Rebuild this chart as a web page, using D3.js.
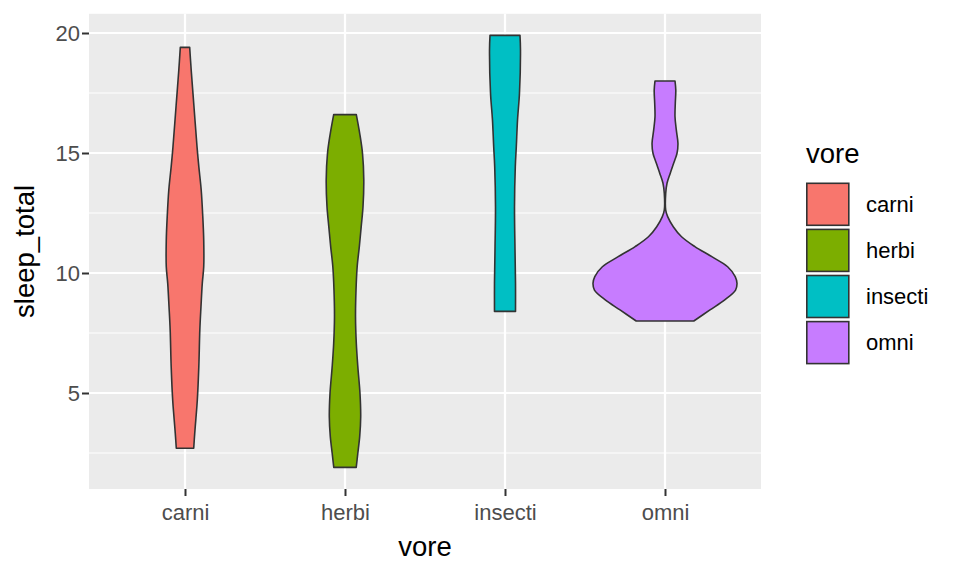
<!DOCTYPE html>
<html>
<head>
<meta charset="utf-8">
<script src="https://cdn.jsdelivr.net/npm/d3@7"></script>
<style>
    body { margin: 0; background: #fff; }
    text { font-family: "Liberation Sans", Arial, sans-serif; }
</style>
</head>
<body>
<div class="curr-graff"></div>
<script>
// categories and colours
const vores = ["carni", "herbi", "insecti", "omni"];
const voreColors = ["#F8766D", "#7CAE00", "#00BFC4", "#C77CFF"];

// violin outlines: sleep_total levels and scaled density (omni peak = 1)
const carniSleep   = [19.4, 18.46, 17.35, 16.24, 15.26, 14.43, 13.46, 12.35, 11.38, 10.26, 9.57, 8.6, 7.63, 6.1, 4.71, 3.88, 3.32, 2.7];
const carniDensity = [0.065, 0.086, 0.114, 0.142, 0.167, 0.192, 0.225, 0.247, 0.26, 0.26, 0.24, 0.222, 0.206, 0.192, 0.171, 0.15, 0.135, 0.121];

const herbiSleep   = [16.6, 15.82, 14.99, 13.88, 12.76, 11.93, 11.1, 10.26, 9.29, 8.18, 7.07, 6.1, 4.99, 4.01, 3.18, 2.49, 1.9];
const herbiDensity = [0.157, 0.204, 0.243, 0.261, 0.25, 0.225, 0.199, 0.169, 0.153, 0.146, 0.157, 0.178, 0.208, 0.218, 0.204, 0.178, 0.156];

const insectiSleep   = [19.9, 19.29, 17.49, 16.38, 15.26, 14.43, 12.76, 10.96, 9.57, 8.4];
const insectiDensity = [0.208, 0.215, 0.201, 0.174, 0.157, 0.143, 0.132, 0.139, 0.146, 0.146];

const omniSleep   = [18.0, 17.62, 17.07, 16.51, 15.96, 15.4, 14.99, 14.57, 14.15, 13.74, 13.32, 12.62, 12.35, 11.93, 11.51, 11.1, 10.68, 10.26, 9.85, 9.57, 9.29, 8.88, 8.46, 8.0];
const omniDensity = [0.139, 0.15, 0.143, 0.139, 0.157, 0.18, 0.167, 0.12, 0.072, 0.028, 0.01, 0.01, 0.037, 0.115, 0.23, 0.415, 0.65, 0.87, 0.975, 1.0, 0.98, 0.83, 0.625, 0.4];

const yTicks = [5, 10, 15, 20];
const yMinor = [2.5, 7.5, 12.5, 17.5];

const xTitle = "vore";
const yTitle = "sleep_total";
const legendTitle = "vore";

function DrawViolins() {
    const width = 960, height = 576;
    const left = 89, right = 761, top = 13.8, bottom = 489;

    const svg = d3.select(".curr-graff")
        .append("svg")
        .attr("width", width)
        .attr("height", height);

    const violins = [
        {vore: vores[0], sleep: carniSleep, dens: carniDensity},
        {vore: vores[1], sleep: herbiSleep, dens: herbiDensity},
        {vore: vores[2], sleep: insectiSleep, dens: insectiDensity},
        {vore: vores[3], sleep: omniSleep, dens: omniDensity}
    ];

    // y range = data range expanded by 5%
    let allSleep = [].concat(carniSleep, herbiSleep, insectiSleep, omniSleep);
    let ext = d3.extent(allSleep);
    let pad = (ext[1] - ext[0]) * 0.05;

    const yScale = d3.scaleLinear()
        .domain([ext[0] - pad, ext[1] + pad])
        .range([bottom, top]);

    const xScale = d3.scalePoint()
        .domain(vores)
        .range([left, right])
        .padding(0.6);

    const wScale = d3.scaleLinear()
        .domain([0, 1])
        .range([0, xScale.step() * 0.45]);

    const color = d3.scaleOrdinal().domain(vores).range(voreColors);

    // panel
    svg.append("rect")
        .attr("x", left).attr("y", top)
        .attr("width", right - left).attr("height", bottom - top)
        .attr("fill", "#EBEBEB");

    svg.append("g").selectAll("line")
        .data(yMinor)
        .enter().append("line")
        .attr("x1", left).attr("x2", right)
        .attr("y1", d => yScale(d)).attr("y2", d => yScale(d))
        .attr("stroke", "#fff").attr("stroke-width", 1.1);

    svg.append("g").selectAll("line")
        .data(yTicks)
        .enter().append("line")
        .attr("x1", left).attr("x2", right)
        .attr("y1", d => yScale(d)).attr("y2", d => yScale(d))
        .attr("stroke", "#fff").attr("stroke-width", 2.2);

    svg.append("g").selectAll("line")
        .data(vores)
        .enter().append("line")
        .attr("x1", d => xScale(d)).attr("x2", d => xScale(d))
        .attr("y1", top).attr("y2", bottom)
        .attr("stroke", "#fff").attr("stroke-width", 2.2);

    // violins
    svg.append("g").selectAll("path")
        .data(violins)
        .enter().append("path")
        .attr("fill", d => color(d.vore))
        .attr("stroke", "#333333")
        .attr("stroke-width", 1.6)
        .attr("stroke-linejoin", "round")
        .attr("d", function(v) {
            let cx = xScale(v.vore);
            return d3.area()
                .y((d, i) => yScale(v.sleep[i]))
                .x0((d, i) => cx - wScale(v.dens[i]))
                .x1((d, i) => cx + wScale(v.dens[i]))
                .curve(d3.curveCatmullRom)(v.sleep);
        });

    // axes
    const yAxis = d3.axisLeft(yScale)
        .tickValues(yTicks)
        .tickSize(7)
        .tickPadding(2);
    const gy = svg.append("g")
        .attr("transform", "translate(" + left + ",0)")
        .call(yAxis);

    const xAxis = d3.axisBottom(xScale)
        .tickSize(7)
        .tickPadding(3);
    const gx = svg.append("g")
        .attr("transform", "translate(0," + bottom + ")")
        .call(xAxis);

    [gy, gx].forEach(g => {
        g.select(".domain").remove();
        g.selectAll(".tick line").attr("stroke", "#333333").attr("stroke-width", 2);
        g.selectAll(".tick text")
            .attr("fill", "#4D4D4D")
            .style("font-size", "22px")
            .style("font-family", "'Liberation Sans', Arial, sans-serif");
    });
    gx.selectAll(".tick text").attr("dy", "0.95em");

    svg.append("text")
        .attr("x", (left + right) / 2)
        .attr("y", 556)
        .attr("text-anchor", "middle")
        .style("font-size", "27.5px")
        .text(xTitle);

    svg.append("text")
        .attr("transform", "translate(34," + (top + bottom) / 2 + ") rotate(-90)")
        .attr("text-anchor", "middle")
        .style("font-size", "27.5px")
        .text(yTitle);

    // legend
    const legend = svg.append("g").attr("transform", "translate(806,0)");
    legend.append("text")
        .attr("x", 0).attr("y", 163)
        .style("font-size", "27.5px")
        .text(legendTitle);

    const keys = legend.selectAll("g.key")
        .data(vores)
        .enter().append("g")
        .attr("class", "key")
        .attr("transform", (d, i) => "translate(0," + (182.5 + i * 46.1) + ")");

    keys.append("rect")
        .attr("x", 0.8).attr("y", 0.8)
        .attr("width", 42).attr("height", 42)
        .attr("fill", d => color(d))
        .attr("stroke", "#333333")
        .attr("stroke-width", 1.6);

    keys.append("text")
        .attr("x", 60).attr("y", 21.5)
        .attr("dy", "0.35em")
        .style("font-size", "22px")
        .text(d => d);
}

DrawViolins();
</script>
</body>
</html>
